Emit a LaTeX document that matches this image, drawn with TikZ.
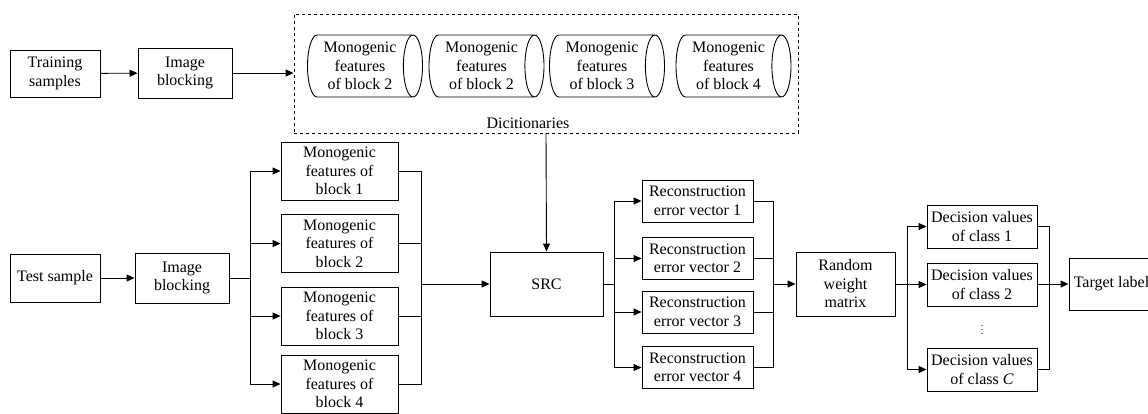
\documentclass[tikz,border=0pt]{standalone}
\usepackage{fontspec}
\setmainfont{Liberation Serif}
\usetikzlibrary{shapes.geometric,arrows.meta}
\tikzset{
  blk/.style={draw, align=center, inner sep=0pt, font=\fontsize{16}{18.5}\selectfont},
  drum/.style={blk, cylinder, shape aspect=0.4, minimum width=62pt, minimum height=115pt},
  arr/.style={-{Triangle[length=8pt,width=7pt]}},
}
\begin{document}
\begin{tikzpicture}[x=1pt,y=-1pt,line width=0.9pt]
\useasboundingbox (0,0) rectangle (1148,413);
\node[blk, minimum width=90pt, minimum height=47pt] (train) at (55,73.5) {Training\\samples};
\node[blk, minimum width=94pt, minimum height=50pt] (imgA) at (185,73) {Image\\blocking};
\node[draw, dashed, minimum width=504pt, minimum height=119pt] (dict) at (546,73.5) {};
\node[drum] (d1) at (360,66) {Monogenic\\features\\of block 2};
\node[drum] (d2) at (481.5,66) {Monogenic\\features\\of block 2};
\node[drum] (d3) at (602,66) {Monogenic\\features\\of block 3};
\node[drum] (d4) at (728.5,66) {Monogenic\\features\\of block 4};
\node[font=\fontsize{16}{18.5}\selectfont] (dlab) at (528,123) {Dicitionaries};

\node[blk, minimum width=90pt, minimum height=48pt] (test) at (55,278) {Test sample};
\node[blk, minimum width=94pt, minimum height=50pt] (imgB) at (182,278) {Image\\blocking};
\node[blk, minimum width=117pt, minimum height=58pt] (fb1) at (339.5,171) {Monogenic\\features of\\block 1};
\node[blk, minimum width=117pt, minimum height=58pt] (fb2) at (339.5,243.5) {Monogenic\\features of\\block 2};
\node[blk, minimum width=117pt, minimum height=58pt] (fb3) at (339.5,316) {Monogenic\\features of\\block 3};
\node[blk, minimum width=117pt, minimum height=58pt] (fb4) at (339.5,384) {Monogenic\\features of\\block 4};
\node[blk, minimum width=113pt, minimum height=64pt] (src) at (546.5,284) {SRC};
\foreach \i/\y in {1/201,2/258.5,3/312,4/367.5}
  \node[blk, minimum width=111pt, minimum height=42pt] (rec\i) at (697.5,\y) {Reconstruction\\error vector \i};
\node[blk, minimum width=99pt, minimum height=64pt] (rw) at (845.5,284) {Random\\weight\\matrix};
\node[blk, minimum width=110pt, minimum height=43pt] (dec1) at (982,226.5) {Decision values\\of class 1};
\node[blk, minimum width=110pt, minimum height=43pt] (dec2) at (982,284.5) {Decision values\\of class 2};
\node[blk, minimum width=110pt, minimum height=43pt] (dec3) at (982,369.5) {Decision values\\of class \textit{C}};
\node[font=\fontsize{10}{10}\selectfont] (dots) at (982,327) {$\vdots$};
\node[blk, minimum width=85pt, minimum height=52pt] (target) at (1111.5,284) {Target label};

\coordinate (sA) at (250,278);
\coordinate (mA) at (421,284);
\coordinate (sB) at (614,284);
\coordinate (mB) at (773,284);
\coordinate (sC) at (907,284);
\coordinate (mC) at (1049,284);

\draw[arr] (train) -- (imgA);
\draw[arr] (imgA) -- (imgA -| dict.west);
\draw[arr] (dict.south) -- (src.north);
\draw[arr] (test) -- (imgB);
\draw (imgB.east) -- (sA);
\foreach \i in {1,...,4} {
  \draw[arr] (sA) |- (fb\i.west);
  \draw (fb\i.east) -| (mA);
}
\draw[arr] (mA) -- (src.west);
\draw (src.east) -- (sB);
\foreach \i in {1,...,4} {
  \draw[arr] (sB) |- (rec\i.west);
  \draw (rec\i.east) -| (mB);
}
\draw[arr] (mB) -- (rw.west);
\draw (rw.east) -- (sC);
\foreach \i in {1,2,3} {
  \draw[arr] (sC) |- (dec\i.west);
  \draw (dec\i.east) -| (mC);
}
\draw[arr] (mC) -- (target.west);
\end{tikzpicture}
\end{document}
